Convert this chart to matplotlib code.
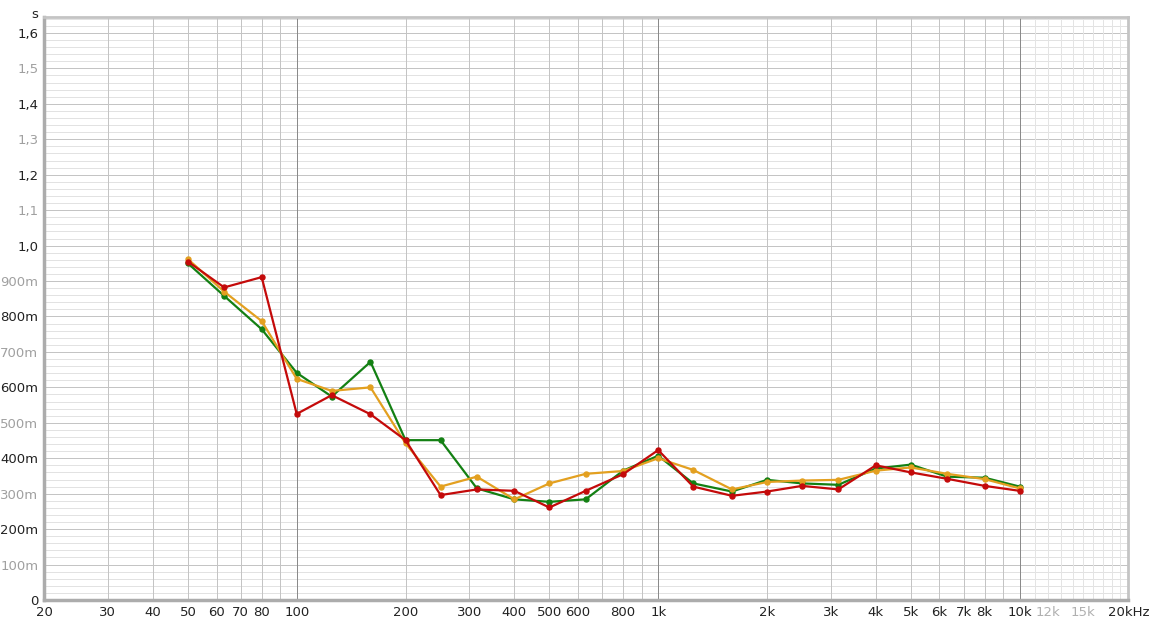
import matplotlib
matplotlib.use("Agg")
from matplotlib import pyplot as plt

# third-octave band centres (Hz)
freqs = [50, 63, 80, 100, 125, 160, 200, 250, 315, 400, 500, 630, 800,
         1000, 1250, 1600, 2000, 2500, 3150, 4000, 5000, 6300, 8000, 10000]

# RT values in seconds
green_rt = [0.950, 0.858, 0.764, 0.641, 0.574, 0.672, 0.451, 0.451, 0.315, 0.284,
            0.277, 0.284, 0.365, 0.407, 0.329, 0.306, 0.339, 0.329, 0.325, 0.371,
            0.382, 0.348, 0.345, 0.320]
orange_rt = [0.962, 0.870, 0.787, 0.624, 0.590, 0.600, 0.442, 0.320, 0.348, 0.284,
             0.329, 0.356, 0.364, 0.400, 0.367, 0.312, 0.333, 0.337, 0.339, 0.365,
             0.374, 0.356, 0.341, 0.315]
red_rt = [0.955, 0.882, 0.911, 0.525, 0.578, 0.524, 0.451, 0.296, 0.312, 0.308,
          0.261, 0.308, 0.355, 0.423, 0.320, 0.294, 0.306, 0.322, 0.312, 0.380,
          0.360, 0.342, 0.322, 0.308]

x_ticks = [20, 30, 40, 50, 60, 70, 80, 100, 200, 300, 400, 500, 600, 800,
           1000, 2000, 3000, 4000, 5000, 6000, 7000, 8000, 10000, 12000, 15000, 20000]
x_labels = ["20", "30", "40", "50", "60", "70", "80", "100", "200", "300", "400",
            "500", "600", "800", "1k", "2k", "3k", "4k", "5k", "6k", "7k", "8k",
            "10k", "12k", "15k", "20kHz"]
y_ticks = [0, 0.1, 0.2, 0.3, 0.4, 0.5, 0.6, 0.7, 0.8, 0.9, 1.0, 1.1, 1.2, 1.3, 1.4, 1.5, 1.6]
y_labels = ["0", "100m", "200m", "300m", "400m", "500m", "600m", "700m", "800m",
            "900m", "1,0", "1,1", "1,2", "1,3", "1,4", "1,5", "1,6"]

fig = plt.figure(figsize=(11.5, 6.25), dpi=100)
ax = fig.add_axes([0.0383, 0.04, 0.9430, 0.9328])
ax.set_xscale("log")
ax.set_xlim(20, 20000)
ax.set_ylim(0, 1.645)

# grid, 1px lines
for i in range(1, 83):
    ax.axhline(i * 0.02, color="#e2e2e2", lw=0.72, zorder=0)
for v in y_ticks[1:]:
    ax.axhline(v, color="#c4c4c4", lw=0.72, zorder=0)
for dec in [10, 100, 1000]:
    for m in range(2, 10):
        f = dec * m
        if 20 < f < 10000:
            ax.axvline(f, color="#c4c4c4", lw=0.72, zorder=0)
for f in [100, 1000, 10000]:
    ax.axvline(f, color="#8a8a8a", lw=0.72, zorder=0)
for f in range(11000, 20000, 1000):
    ax.axvline(f, color="#e4e4e4", lw=0.72, zorder=0)

ax.plot(freqs, green_rt, color="#138013", lw=1.6, marker="o", ms=3.6, zorder=3)
ax.plot(freqs, orange_rt, color="#e3a020", lw=1.6, marker="o", ms=3.6, zorder=4)
ax.plot(freqs, red_rt, color="#c40a0a", lw=1.6, marker="o", ms=3.6, zorder=5)

ax.set_xticks(x_ticks)
ax.set_xticklabels(x_labels)
ax.minorticks_off()
ax.set_yticks(y_ticks)
ax.set_yticklabels(y_labels)
ax.tick_params(length=0, labelsize=9.5, pad=4)
for lab in ax.get_xticklabels():
    lab.set_color("#b0b0b0" if lab.get_text() in ("12k", "15k") else "#222222")
for i, lab in enumerate(ax.get_yticklabels()):
    lab.set_color("#222222" if i % 2 == 0 else "#a0a0a0")

for side in ["left", "bottom"]:
    ax.spines[side].set_linewidth(2.5)
    ax.spines[side].set_color("#acacac")
for side in ["top", "right"]:
    ax.spines[side].set_linewidth(2)
    ax.spines[side].set_color("#c4c4c4")

fig.text(0.0305, 0.988, "s", ha="center", va="top", fontsize=9.5, color="#222222")

fig.savefig("out.png", dpi=100, facecolor="white")
